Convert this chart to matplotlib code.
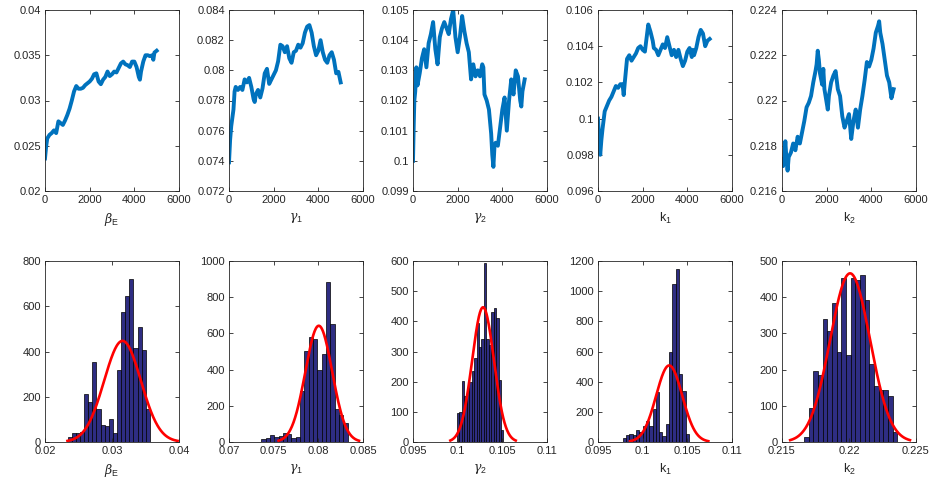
import numpy as np
import matplotlib
matplotlib.use('Agg')
import matplotlib.pyplot as plt

plt.rcParams['font.family'] = ['Liberation Sans', 'DejaVu Sans']
plt.rcParams['mathtext.fontset'] = 'custom'
plt.rcParams['mathtext.rm'] = 'Liberation Sans'
plt.rcParams['mathtext.it'] = 'DejaVu Serif:italic'

# ---- chain traces (iteration, value) ----
it_b = [0, 50, 100, 200, 300, 400, 500, 600, 700, 800, 900, 1000, 1100, 1200, 1300, 1400, 1500, 1600, 1700, 1800,
        1900, 2000, 2100, 2200, 2300, 2400, 2500, 2600, 2700, 2800, 2900, 3000, 3100, 3200, 3300, 3400, 3500, 3600,
        3700, 3800, 3900, 4000, 4100, 4200, 4250, 4300, 4400, 4500, 4600, 4700, 4800, 4850, 4900, 5000]
beta_E = [0.0236, 0.0249, 0.0258, 0.0262, 0.0264, 0.0267, 0.0264, 0.0277, 0.0275, 0.0273, 0.0278, 0.0284, 0.0291,
          0.0300, 0.0310, 0.0316, 0.0313, 0.0313, 0.0314, 0.0317, 0.0319, 0.0321, 0.0324, 0.0329, 0.0330, 0.0321,
          0.0318, 0.0323, 0.0326, 0.0332, 0.0327, 0.0329, 0.0332, 0.0331, 0.0336, 0.0341, 0.0343, 0.0340, 0.0339,
          0.0337, 0.0343, 0.0343, 0.0337, 0.0326, 0.0323, 0.0332, 0.0343, 0.0350, 0.0350, 0.0349, 0.0350, 0.0345,
          0.0353, 0.0355]

it_g1 = [0, 50, 100, 200, 250, 300, 400, 500, 600, 700, 800, 900, 1000, 1100, 1150, 1200, 1300, 1400, 1500, 1600,
         1700, 1800, 1900, 2000, 2100, 2200, 2300, 2400, 2500, 2600, 2700, 2800, 2900, 3000, 3100, 3200, 3300, 3400,
         3500, 3600, 3700, 3800, 3900, 4000, 4100, 4200, 4300, 4400, 4500, 4600, 4700, 4800, 4900, 5000]
gamma_1 = [0.0739, 0.0754, 0.0763, 0.0774, 0.0786, 0.0789, 0.0787, 0.0789, 0.0787, 0.0794, 0.0792, 0.0795, 0.0789,
           0.0781, 0.0779, 0.0784, 0.0787, 0.0782, 0.0788, 0.0798, 0.0801, 0.0791, 0.0794, 0.0797, 0.0800, 0.0806,
           0.0817, 0.0816, 0.0812, 0.0816, 0.0808, 0.0805, 0.0812, 0.0813, 0.0817, 0.0815, 0.0818, 0.0825, 0.0829,
           0.0830, 0.0825, 0.0816, 0.0810, 0.0813, 0.0820, 0.0812, 0.0807, 0.0805, 0.0810, 0.0812, 0.0807, 0.0798,
           0.0799, 0.0792]

it_g2 = [0, 30, 60, 100, 150, 200, 300, 400, 500, 600, 700, 800, 900, 1000, 1100, 1200, 1300, 1400, 1500, 1600,
         1700, 1800, 1900, 2000, 2100, 2200, 2300, 2400, 2500, 2600, 2700, 2800, 2900, 3000, 3100, 3150, 3200, 3300,
         3400, 3500, 3550, 3600, 3650, 3700, 3800, 3900, 4000, 4100, 4200, 4300, 4400, 4500, 4600, 4700, 4800, 4850,
         4900, 5000]
gamma_2 = [0.1000, 0.1011, 0.1020, 0.1023, 0.1031, 0.1025, 0.1029, 0.1034, 0.1037, 0.1031, 0.1039, 0.1042, 0.1046,
           0.1037, 0.1032, 0.1041, 0.1044, 0.1046, 0.1044, 0.1042, 0.1047, 0.1050, 0.1041, 0.1036, 0.1041, 0.1048,
           0.1043, 0.1039, 0.1036, 0.1027, 0.1032, 0.1028, 0.1030, 0.1028, 0.1032, 0.1031, 0.1022, 0.1020, 0.1017,
           0.1009, 0.1002, 0.0998, 0.1005, 0.1006, 0.1005, 0.1011, 0.1017, 0.1021, 0.1010, 0.1020, 0.1027, 0.1022,
           0.1030, 0.1028, 0.1020, 0.1018, 0.1023, 0.1027]

it_k1 = [0, 50, 100, 150, 200, 300, 400, 500, 600, 700, 800, 900, 1000, 1100, 1150, 1200, 1300, 1400, 1500, 1600,
         1700, 1800, 1900, 2000, 2100, 2200, 2250, 2350, 2450, 2500, 2600, 2700, 2800, 2900, 3000, 3100, 3200, 3300,
         3400, 3500, 3600, 3700, 3800, 3900, 4000, 4100, 4200, 4250, 4300, 4400, 4500, 4600, 4700, 4800, 4900, 5000]
k_1 = [0.1000, 0.0988, 0.0980, 0.0988, 0.0994, 0.1004, 0.1007, 0.1010, 0.1012, 0.1015, 0.1018, 0.1017, 0.1019,
       0.1019, 0.1013, 0.1020, 0.1033, 0.1035, 0.1032, 0.1034, 0.1036, 0.1039, 0.1040, 0.1038, 0.1037, 0.1047,
       0.1052, 0.1048, 0.1043, 0.1039, 0.1038, 0.1035, 0.1038, 0.1041, 0.1039, 0.1045, 0.1040, 0.1035, 0.1038,
       0.1034, 0.1038, 0.1033, 0.1029, 0.1032, 0.1037, 0.1039, 0.1034, 0.1038, 0.1035, 0.1039, 0.1045, 0.1049,
       0.1047, 0.1040, 0.1043, 0.1044]

it_k2 = [0, 50, 100, 150, 200, 250, 300, 400, 500, 600, 700, 800, 900, 1000, 1100, 1200, 1300, 1400, 1500, 1550,
         1600, 1650, 1700, 1800, 1850, 1900, 2000, 2050, 2100, 2200, 2300, 2400, 2500, 2600, 2700, 2800, 2900, 3000,
         3100, 3200, 3300, 3400, 3500, 3600, 3700, 3800, 3900, 4000, 4100, 4200, 4300, 4350, 4400, 4500, 4600, 4700,
         4800, 4900, 5000]
k_2 = [0.2174, 0.2171, 0.2175, 0.2182, 0.2174, 0.2169, 0.2175, 0.2177, 0.2181, 0.2178, 0.2184, 0.2181, 0.2186,
       0.2191, 0.2197, 0.2199, 0.2202, 0.2208, 0.2213, 0.2216, 0.2222, 0.2218, 0.2212, 0.2207, 0.2214, 0.2205,
       0.2199, 0.2196, 0.2202, 0.2208, 0.2211, 0.2213, 0.2205, 0.2202, 0.2193, 0.2188, 0.2191, 0.2194, 0.2183,
       0.2191, 0.2196, 0.2188, 0.2196, 0.2202, 0.2209, 0.2217, 0.2215, 0.2218, 0.2223, 0.2230, 0.2233, 0.2235,
       0.2230, 0.2225, 0.2218, 0.2211, 0.2208, 0.2201, 0.2205]

# ---- histogram counts and bin range ----
cnt_b = [24, 38, 40, 45, 210, 177, 352, 144, 75, 69, 102, 38, 318, 576, 646, 720, 417, 507, 406, 144]
rng_b = (0.02338, 0.03566)
cnt_g1 = [15, 22, 37, 26, 33, 52, 44, 22, 28, 280, 505, 580, 569, 398, 488, 882, 654, 182, 147, 103]
rng_g1 = (0.07361, 0.08327)
cnt_g2 = [95, 100, 202, 153, 180, 200, 237, 280, 395, 315, 340, 595, 340, 320, 430, 443, 410, 205, 40]
rng_g2 = (0.09993, 0.10512)
cnt_k1 = [27, 44, 55, 46, 82, 64, 108, 141, 108, 217, 334, 69, 40, 117, 594, 1045, 1147, 449, 340, 53]
rng_k1 = (0.09776, 0.10519)
cnt_k2 = [13, 93, 197, 185, 340, 308, 383, 248, 452, 239, 452, 447, 460, 391, 215, 155, 144, 143, 126, 28]
rng_k2 = (0.21664, 0.22360)

# normal fit (mean, std)
fit_b = (0.03157, 0.00274)
fit_g1 = (0.08005, 0.00150)
fit_g2 = (0.10284, 0.00122)
fit_k1 = (0.10297, 0.00146)
fit_k2 = (0.22008, 0.00149)
n_samples = 5000

labels = [r'$\beta_{\rm E}$', r'$\gamma_{\rm 1}$', r'$\gamma_{\rm 2}$', r'${\rm k}_{\rm 1}$', r'${\rm k}_{\rm 2}$']
traces = [(it_b, beta_E), (it_g1, gamma_1), (it_g2, gamma_2), (it_k1, k_1), (it_k2, k_2)]
hists = [(cnt_b, rng_b, fit_b), (cnt_g1, rng_g1, fit_g1), (cnt_g2, rng_g2, fit_g2),
         (cnt_k1, rng_k1, fit_k1), (cnt_k2, rng_k2, fit_k2)]

top_y = [(0.02, 0.04, 0.005), (0.072, 0.084, 0.002), (0.099, 0.105, 0.001), (0.096, 0.106, 0.002),
         (0.216, 0.224, 0.002)]
bot_x = [(0.02, 0.04, 0.01), (0.07, 0.085, 0.005), (0.095, 0.11, 0.005), (0.095, 0.11, 0.005),
         (0.215, 0.225, 0.005)]
bot_y = [(0, 800, 200), (0, 1000, 200), (0, 600, 100), (0, 1200, 200), (0, 500, 100)]

axc = '#262626'


def ticks(lo, hi, st):
    t = np.arange(lo, hi + st / 2, st)
    return t, ['%g' % round(v, 6) for v in t]


def style(ax):
    ax.tick_params(direction='in', length=3, width=0.6, top=True, right=True, labelsize=8,
                   colors=axc, pad=3)
    for s in ax.spines.values():
        s.set_color(axc)
        s.set_linewidth(0.6)


fig = plt.figure(figsize=(9.32, 4.88), dpi=100)
lefts = [45, 229, 413, 598, 782]
for i in range(5):
    # trace
    ax = fig.add_axes([lefts[i] / 932, 1 - 191 / 488, 134 / 932, 181 / 488])
    x, y = traces[i]
    ax.plot(x, y, color='#0072BD', lw=2.8, solid_joinstyle='round')
    ax.set_xlim(0, 6000)
    t, l = ticks(0, 6000, 2000)
    ax.set_xticks(t, l)
    lo, hi, st = top_y[i]
    ax.set_ylim(lo, hi)
    t, l = ticks(lo, hi, st)
    ax.set_yticks(t, l)
    ax.set_xlabel(labels[i], fontsize=9, color=axc, labelpad=4)
    style(ax)

    # histogram + normal fit
    ax = fig.add_axes([lefts[i] / 932, 1 - 442 / 488, 134 / 932, 181 / 488])
    cnt, rng, fit = hists[i]
    bw = (rng[1] - rng[0]) / len(cnt)
    lefts_b = rng[0] + bw * np.arange(len(cnt))
    ax.bar(lefts_b, cnt, width=bw, align='edge', color='#2e2d82', edgecolor='black', linewidth=0.5)
    mu, sd = fit
    xx = np.linspace(mu - 3 * sd, mu + 3 * sd, 200)
    yy = n_samples * bw * np.exp(-0.5 * ((xx - mu) / sd) ** 2) / (sd * np.sqrt(2 * np.pi))
    ax.plot(xx, yy, color='red', lw=1.9)
    lo, hi, st = bot_x[i]
    ax.set_xlim(lo, hi)
    t, l = ticks(lo, hi, st)
    ax.set_xticks(t, l)
    lo, hi, st = bot_y[i]
    ax.set_ylim(lo, hi)
    t, l = ticks(lo, hi, st)
    ax.set_yticks(t, l)
    ax.set_xlabel(labels[i], fontsize=9, color=axc, labelpad=4)
    style(ax)

plt.savefig('out.png', dpi=100)
